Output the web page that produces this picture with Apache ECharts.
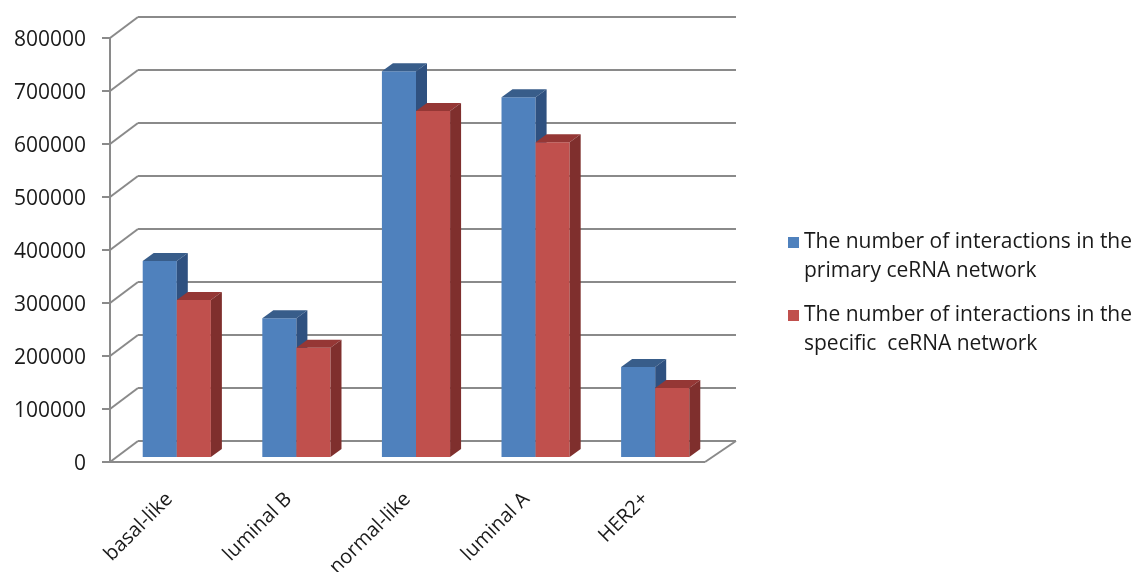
<!DOCTYPE html>
<html><head><meta charset="utf-8">
<script src="https://cdn.jsdelivr.net/npm/echarts@6/dist/echarts.min.js"></script>
<style>html,body{margin:0;padding:0;background:#fff}#c{width:1138px;height:572px}</style>
</head><body><div id="c"></div>
<script>
var categories = ['basal-like', 'luminal B', 'normal-like', 'luminal A', 'HER2+'];
var primaryValues = [370000, 262000, 728000, 679000, 170000];
var specificValues = [296000, 206000, 653000, 594000, 130000];
var yTicks = [0, 100000, 200000, 300000, 400000, 500000, 600000, 700000, 800000];
var seriesNames = ['The number of interactions in the\nprimary ceRNA network', 'The number of interactions in the\nspecific  ceRNA network'];

var FONT = 'Open Sans';
var GRID_COLOR = '#8a8a8a';
var BACK_DX = 21, BACK_DY = -16, FRONT_DX = -7, FRONT_DY = 5;
var DEPTH_DX = 11, DEPTH_DY = -8;

function wallRender(params, api) {
  var cs = params.coordSys;
  var v = api.value(0);
  var y = api.coord([0, v])[1];
  var style = {stroke: GRID_COLOR, lineWidth: 2, fill: null};
  var children = [
    {type: 'line', shape: {x1: cs.x + BACK_DX, y1: y + BACK_DY, x2: cs.x + cs.width + BACK_DX, y2: y + BACK_DY}, style: style},
    {type: 'line', shape: {x1: cs.x + FRONT_DX, y1: y + FRONT_DY, x2: cs.x + BACK_DX, y2: y + BACK_DY}, style: style}
  ];
  if (v === 0) {
    var xr = cs.x + cs.width + FRONT_DX - 3;
    children.push({type: 'line', shape: {x1: cs.x + FRONT_DX, y1: y + FRONT_DY, x2: xr, y2: y + FRONT_DY}, style: style});
    children.push({type: 'line', shape: {x1: xr, y1: y + FRONT_DY, x2: cs.x + cs.width + BACK_DX, y2: y + BACK_DY}, style: style});
  }
  return {type: 'group', children: children};
}

function makeBarRender(side, front, topC, sideC) {
  return function (params, api) {
    var cat = api.value(0), v = api.value(1);
    var base = api.coord([cat, 0]);
    var top = api.coord([cat, v]);
    var w = api.size([1, 0])[0] * 0.285;
    var x0 = side === 0 ? base[0] - w : base[0];
    var x1 = x0 + w;
    var yb = base[1], yt = top[1];
    return {type: 'group', children: [
      {type: 'rect', shape: {x: x0, y: yt, width: w, height: yb - yt}, style: {fill: front}},
      {type: 'polygon', shape: {points: [[x0, yt], [x1, yt], [x1 + DEPTH_DX, yt + DEPTH_DY], [x0 + DEPTH_DX, yt + DEPTH_DY]]}, style: {fill: topC}},
      {type: 'polygon', shape: {points: [[x1, yt], [x1 + DEPTH_DX, yt + DEPTH_DY], [x1 + DEPTH_DX, yb + DEPTH_DY], [x1, yb]]}, style: {fill: sideC}}
    ]};
  };
}

var chart = echarts.init(document.getElementById('c'));
chart.setOption({
  animation: false,
  backgroundColor: '#fff',
  grid: [
    {left: 110, right: 433, top: 40, bottom: 108, containLabel: false, outerBoundsMode: 'none'},
    {left: 117, right: 423, top: 33, bottom: 115, containLabel: false, outerBoundsMode: 'none'}
  ],
  xAxis: [
    {type: 'category', gridIndex: 0, data: categories,
     axisLine: {show: false},
     axisTick: {show: false},
     axisLabel: {rotate: 45, fontFamily: FONT, fontSize: 20, color: '#1a1a1a', margin: 32, interval: 0}},
    {type: 'category', gridIndex: 1, data: categories, show: false}
  ],
  yAxis: [
    {type: 'value', gridIndex: 0, min: 0, max: 800000, interval: 100000,
     axisLine: {show: false},
     axisTick: {show: false},
     splitLine: {show: false},
     axisLabel: {fontFamily: FONT, fontSize: 21, color: '#1a1a1a', margin: 24,
                 formatter: function (v) { return String(v); }}},
    {type: 'value', gridIndex: 1, min: 0, max: 800000, interval: 100000, show: false, splitLine: {show: false}},
    {type: 'value', gridIndex: 0, min: 0, max: 800000, interval: 100000, show: false, splitLine: {show: false}}
  ],
  legend: {
    orient: 'vertical', left: 783, top: 194, itemGap: -14,
    itemWidth: 11, itemHeight: 11, icon: 'rect',
    formatter: function (name) { return ' \n' + name; },
    textStyle: {fontFamily: FONT, fontSize: 21, color: '#1a1a1a', lineHeight: 29, padding: [0, 0, 0, 0]},
    data: seriesNames
  },
  series: [
    {type: 'custom', name: 'wall', xAxisIndex: 1, yAxisIndex: 1, z: 1, silent: true,
     encode: {y: 0}, data: yTicks.map(function (v) { return [v]; }),
     renderItem: function (params, api) {
       var g = wallRender(params, api);
       var cs = params.coordSys;
       var v = api.value(0);
       var y = api.coord([0, v])[1];
       var style = {stroke: GRID_COLOR, lineWidth: 2, fill: null};
       var xf = cs.x + FRONT_DX, yf = y + FRONT_DY;
       g.children.push({type: 'line', shape: {x1: xf - 8, y1: yf, x2: xf, y2: yf}, style: style});
       if (v > 0) {
         var yPrev = api.coord([0, v - 100000])[1] + FRONT_DY;
         g.children.push({type: 'line', shape: {x1: xf, y1: yPrev, x2: xf, y2: yf}, style: style});
       }
       return g;
     }},
    {type: 'custom', name: seriesNames[0], xAxisIndex: 1, yAxisIndex: 1, z: 2,
     itemStyle: {color: '#4F81BD'},
     encode: {x: 0, y: 1},
     data: primaryValues.map(function (v, i) { return [i, v]; }),
     renderItem: makeBarRender(0, '#4F81BD', '#385D8A', '#2F5180')},
    {type: 'custom', name: seriesNames[1], xAxisIndex: 1, yAxisIndex: 1, z: 3,
     itemStyle: {color: '#C0504D'},
     encode: {x: 0, y: 1},
     data: specificValues.map(function (v, i) { return [i, v]; }),
     renderItem: makeBarRender(1, '#C0504D', '#953735', '#7F2F2D')}
  ]
});
</script></body></html>
